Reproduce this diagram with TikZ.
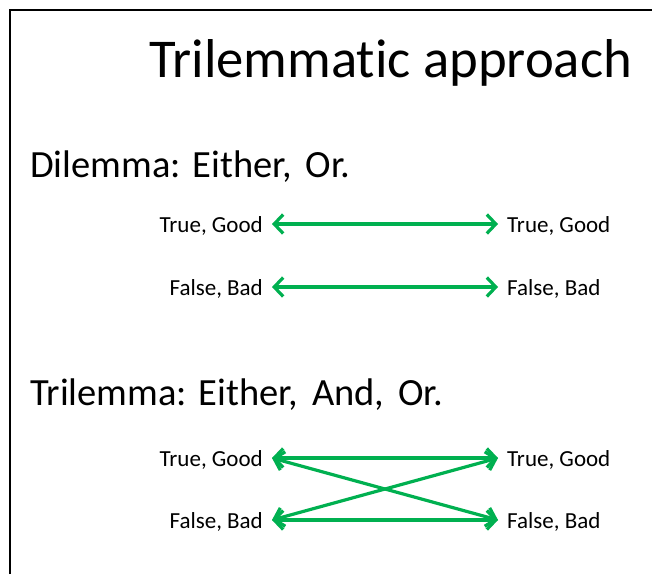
\documentclass[tikz,border=0pt]{standalone}
\usepackage{fontspec}
\setmainfont{Carlito}[Ligatures=NoCommon]
\usepackage{tikz}
\usetikzlibrary{arrows.meta}
\definecolor{frame}{HTML}{000000}
\definecolor{link}{HTML}{00B050}
\tikzset{
  border/.style={line width=2pt, draw=frame},
  title/.style={anchor=base west, inner sep=0pt, font=\fontsize{54.7}{60}\selectfont},
  head/.style={anchor=base west, inner sep=0pt, font=\fontsize{38.5}{44}\selectfont},
  item/.style={inner xsep=9pt, inner ysep=0pt, text height=20pt, text depth=3pt,
    font=\fontsize{23}{26}\selectfont},
  pair/.style={line width=3.2pt, draw=link, {Straight Barb[length=9pt,width=19pt]}-{Straight Barb[length=9pt,width=19pt]}},
}
\begin{document}
\begin{tikzpicture}[x=1pt, y=-1pt]
  \useasboundingbox (0,0) rectangle (652,574);
  \draw[border] (10,574) -- (10,10) -- (652,10);   % slide edge

  \node[title] (ttl) at (149,77) {Trilemmatic approach};

  % dilemma
  \node[head] (dil) at (30,177) {Dilemma: Either,\hspace{5pt} Or.};
  \node[item, anchor=east] (dTL) at (272,224) {True, Good};
  \node[item, anchor=west] (dTR) at (498,224) {True, Good};
  \node[item, anchor=east] (dFL) at (272,287) {False, Bad};
  \node[item, anchor=west] (dFR) at (498,287) {False, Bad};

  \draw[pair] (dTL.east) -- (dTR.west);
  \draw[pair] (dFL.east) -- (dFR.west);

  % trilemma
  \node[head] (tri) at (30,405) {Trilemma: Either,\hspace{5pt} And,\hspace{5pt} Or.};
  \node[item, anchor=east] (tTL) at (272,458) {True, Good};
  \node[item, anchor=west] (tTR) at (498,458) {True, Good};
  \node[item, anchor=east] (tFL) at (272,520) {False, Bad};
  \node[item, anchor=west] (tFR) at (498,520) {False, Bad};

  \draw[pair] (tTL.east) -- (tTR.west);
  \draw[pair] (tFL.east) -- (tFR.west);
  \draw[pair] (tTL.east) -- (tFR.west);
  \draw[pair] (tFL.east) -- (tTR.west);
\end{tikzpicture}
\end{document}
